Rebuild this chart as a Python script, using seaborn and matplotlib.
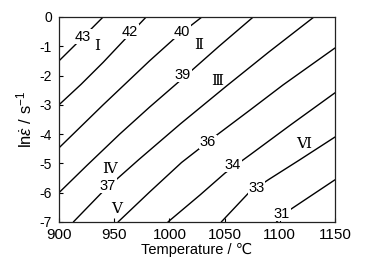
import pandas as pd
import matplotlib
matplotlib.use("Agg")
import matplotlib.pyplot as plt
import seaborn as sns

sns.set_style("ticks")
plt.rcParams['font.family'] = ['Liberation Sans', 'DejaVu Sans', 'Noto Sans CJK SC']
plt.rcParams['mathtext.fontset'] = 'custom'
plt.rcParams['mathtext.rm'] = 'Liberation Sans'
plt.rcParams['mathtext.it'] = 'Liberation Sans:italic'
plt.rcParams['text.color'] = 'black'
plt.rcParams['axes.labelcolor'] = 'black'

# iso-lines: temperature (C) vs ln(strain rate)
temp_43 = [900, 922, 940]
rate_43 = [-1.5, -0.68, 0]
temp_42 = [900, 920, 940, 960, 979]
rate_42 = [-3.0, -2.3, -1.55, -0.75, 0]
temp_40 = [900, 940, 982, 1005, 1029.5]
rate_40 = [-4.47, -3.0, -1.5, -0.72, 0]
temp_39 = [900, 925, 955, 982, 1012, 1045, 1076]
rate_39 = [-6.0, -5.08, -4.0, -3.08, -2.1, -1.0, 0]
temp_37 = [913, 940, 972, 1010, 1052, 1090, 1131]
rate_37 = [-7, -5.95, -4.88, -3.65, -2.35, -1.2, 0]
temp_36 = [953.5, 982, 1011, 1043, 1073, 1103, 1150]
rate_36 = [-7, -5.98, -4.97, -4.03, -3.18, -2.32, -1.06]
temp_34 = [998.7, 1027.7, 1050.4, 1073, 1110, 1150]
rate_34 = [-7, -6.08, -5.33, -4.71, -3.68, -2.59]
temp_33 = [1047, 1072, 1090, 1118, 1150]
rate_33 = [-7, -6.0, -5.55, -4.88, -4.1]
temp_31 = [1097, 1109, 1150]
rate_31 = [-7, -6.59, -5.56]

levels = [43, 42, 40, 39, 37, 36, 34, 33, 31]
temps = [temp_43, temp_42, temp_40, temp_39, temp_37, temp_36, temp_34, temp_33, temp_31]
rates = [rate_43, rate_42, rate_40, rate_39, rate_37, rate_36, rate_34, rate_33, rate_31]

# where the values are written on the lines
label_temp = [921.7, 964.3, 1011.4, 1012.3, 944.4, 1035, 1057.6, 1079, 1102]
label_rate = [-0.68, -0.5, -0.5, -1.98, -5.77, -4.27, -5.05, -5.83, -6.73]

# domain names
region_names = ['Ⅰ', 'Ⅱ', 'Ⅲ', 'Ⅳ', 'Ⅴ', 'Ⅵ']
region_temp = [934.4, 1026.8, 1042.8, 946, 952.2, 1121.3]
region_rate = [-1.02, -0.96, -2.19, -5.22, -6.59, -4.37]

rows = []
for lv, tt, rr in zip(levels, temps, rates):
    for t, r in zip(tt, rr):
        rows.append({"T": t, "rate": r, "level": lv})
df = pd.DataFrame(rows)

fig = plt.figure(figsize=(3.70, 2.71), dpi=100)
ax = fig.add_axes([0.1595, 0.181, 0.7459, 0.7565])

sns.lineplot(data=df, x="T", y="rate", units="level", estimator=None, sort=False,
             color="black", lw=1.0, ax=ax)

for lv, t, r in zip(levels, label_temp, label_rate):
    ax.text(t, r, str(lv), fontsize=10.5, ha="center", va="center",
            bbox=dict(facecolor="white", edgecolor="none", pad=0.3))

for name, t, r in zip(region_names, region_temp, region_rate):
    ax.text(t, r, name, fontsize=11, ha="center", va="center",
            family=['Liberation Serif', 'DejaVu Serif', 'Noto Sans CJK SC'])

ax.set_xlim(900, 1150)
ax.set_ylim(-7, 0)
ax.set_xticks(range(900, 1151, 50))
ax.set_yticks(range(-7, 1))
ax.set_yticklabels([str(v) for v in range(-7, 1)])
ax.tick_params(direction="in", length=3, width=0.8, colors="black")
ax.tick_params(axis="x", labelsize=11, pad=4)
ax.tick_params(axis="y", labelsize=10, pad=5)
for sp in ax.spines.values():
    sp.set_visible(True)
    sp.set_linewidth(0.9)
    sp.set_color("#222222")

ax.set_xlabel("Temperature / ℃", fontsize=10.5, labelpad=1)
ax.set_ylabel(r"ln$\dot{\varepsilon}$ / s$^{-1}$", fontsize=12, labelpad=4)

fig.savefig("out.png", dpi=100)
